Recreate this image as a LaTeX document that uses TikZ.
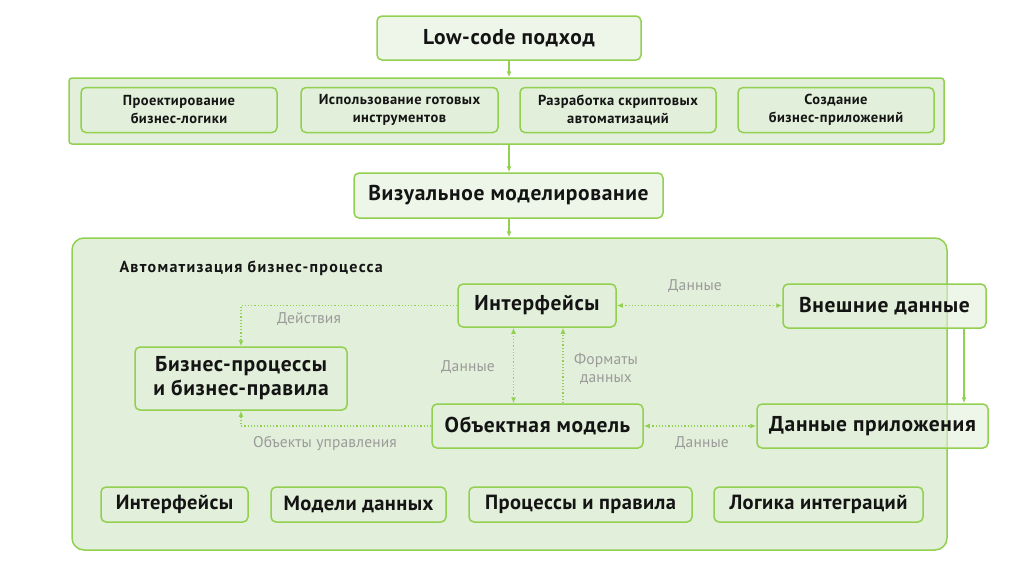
\documentclass[tikz,border=0pt]{standalone}
\usepackage{fontspec}
\setmainfont{PT Sans}
\usetikzlibrary{arrows.meta}
\definecolor{lgreen}{HTML}{92D050}
\definecolor{lfill}{HTML}{E2EFDA}
\definecolor{lgray}{HTML}{9A9A9A}
\definecolor{dtext}{HTML}{141414}

\begin{document}
\begin{tikzpicture}[x=1pt,y=-1pt,>={Latex[length=6pt,width=5pt]},
    box/.style={draw=lgreen,line width=1.5pt,rounded corners=5pt,fill=lfill,fill opacity=0.6,text opacity=1,text=dtext,align=center,inner sep=0pt},
    bigbox/.style={box,font=\fontsize{21.5}{24}\selectfont\bfseries\addfontfeatures{LetterSpace=3}},
    smallbox/.style={box,font=\fontsize{14.5}{18}\selectfont\bfseries\addfontfeatures{LetterSpace=3}},
    lowbox/.style={box,font=\fontsize{20.5}{24}\selectfont\bfseries\addfontfeatures{LetterSpace=2}},
    lbl/.style={text=lgray,font=\fontsize{15.5}{18}\selectfont\addfontfeatures{LetterSpace=1},align=center,inner sep=0pt},
    link/.style={lgreen,line width=1.2pt},
    dlink/.style={link,dotted}]
      \useasboundingbox (0,0) rectangle (1024,576);

      \node[bigbox,minimum width=264pt,minimum height=44pt] (low) at (509,38) {Low-code подход};

      \node[box,fill opacity=1,rounded corners=3pt,minimum width=875pt,minimum height=66pt] (ways) at (506.5,111) {};
      \node[smallbox,minimum width=196pt,minimum height=45pt] (w1) at (179,110) {Проектирование\\бизнес-логики};
      \node[smallbox,minimum width=197pt,minimum height=45pt] (w2) at (399.5,110) {Использование готовых\\инструментов};
      \node[smallbox,minimum width=196pt,minimum height=45pt] (w3) at (618,110) {Разработка скриптовых\\автоматизаций};
      \node[smallbox,minimum width=196pt,minimum height=45pt] (w4) at (836,110) {Создание\\бизнес-приложений};

      \node[bigbox,minimum width=309pt,minimum height=45pt] (vis) at (508.5,195.5) {Визуальное моделирование};

      \node[box,fill opacity=1,rounded corners=12pt,minimum width=875pt,minimum height=312pt] (auto) at (509.5,394) {};
      \node[anchor=west,text=dtext,font=\fontsize{16}{18}\selectfont\bfseries\addfontfeatures{LetterSpace=8}] (autot) at (116,268) {Автоматизация бизнес-процесса};

      \node[bigbox,minimum width=158pt,minimum height=43pt] (intf) at (537,305.5) {Интерфейсы};
      \node[bigbox,minimum width=203pt,minimum height=44pt] (ext) at (884.5,306) {Внешние данные};
      \node[bigbox,minimum width=212pt,minimum height=63pt] (bp) at (241,378.5) {Бизнес-процессы\\и бизнес-правила};
      \node[bigbox,minimum width=211pt,minimum height=44pt] (obj) at (537.5,426) {Объектная модель};
      \node[bigbox,minimum width=231pt,minimum height=44pt] (app) at (872.5,426) {Данные приложения};

      \node[lowbox,minimum width=147pt,minimum height=35pt] (b1) at (174.5,504.5) {Интерфейсы};
      \node[lowbox,minimum width=175pt,minimum height=35pt] (b2) at (358.5,504.5) {Модели данных};
      \node[lowbox,minimum width=223pt,minimum height=35pt] (b3) at (580.5,504.5) {Процессы и правила};
      \node[lowbox,minimum width=209pt,minimum height=35pt] (b4) at (818.5,504.5) {Логика интеграций};

      \draw[link,->] (low.south) -- (low.south |- ways.north);
      \draw[link,->] (ways.south -| low.south) -- (low.south |- vis.north);
      \draw[link,->] (vis.south -| low.south) -- (low.south |- auto.north);

      \draw[dlink,<->] (intf.east) -- (intf.east -| ext.west);
      \draw[dlink,->] (intf.west) -| (bp.north);
      \draw[dlink,->] (obj.west) -| (bp.south);
      \draw[dlink,<->] ([xshift=-24pt]obj.north) -- ([xshift=-24pt]obj.north |- intf.south);
      \draw[dlink,->] ([xshift=25.5pt]obj.north) -- ([xshift=25.5pt]obj.north |- intf.south);
      \draw[dlink,<->] (obj.east) -- (obj.east -| app.west);
      \draw[link,->] ([xshift=79.5pt]ext.south) -- ([xshift=79.5pt]ext.south |- app.north);

      \node[lbl] (d1) at (695,286) {Данные};
      \node[lbl] (act) at (309,319) {Действия};
      \node[lbl] (d2) at (468,367) {Данные};
      \node[lbl] (fmt) at (606,369) {Форматы\\данных};
      \node[lbl] (ctl) at (325,443) {Объекты управления};
      \node[lbl] (d3) at (702,443) {Данные};
   \end{tikzpicture}
\end{document}
